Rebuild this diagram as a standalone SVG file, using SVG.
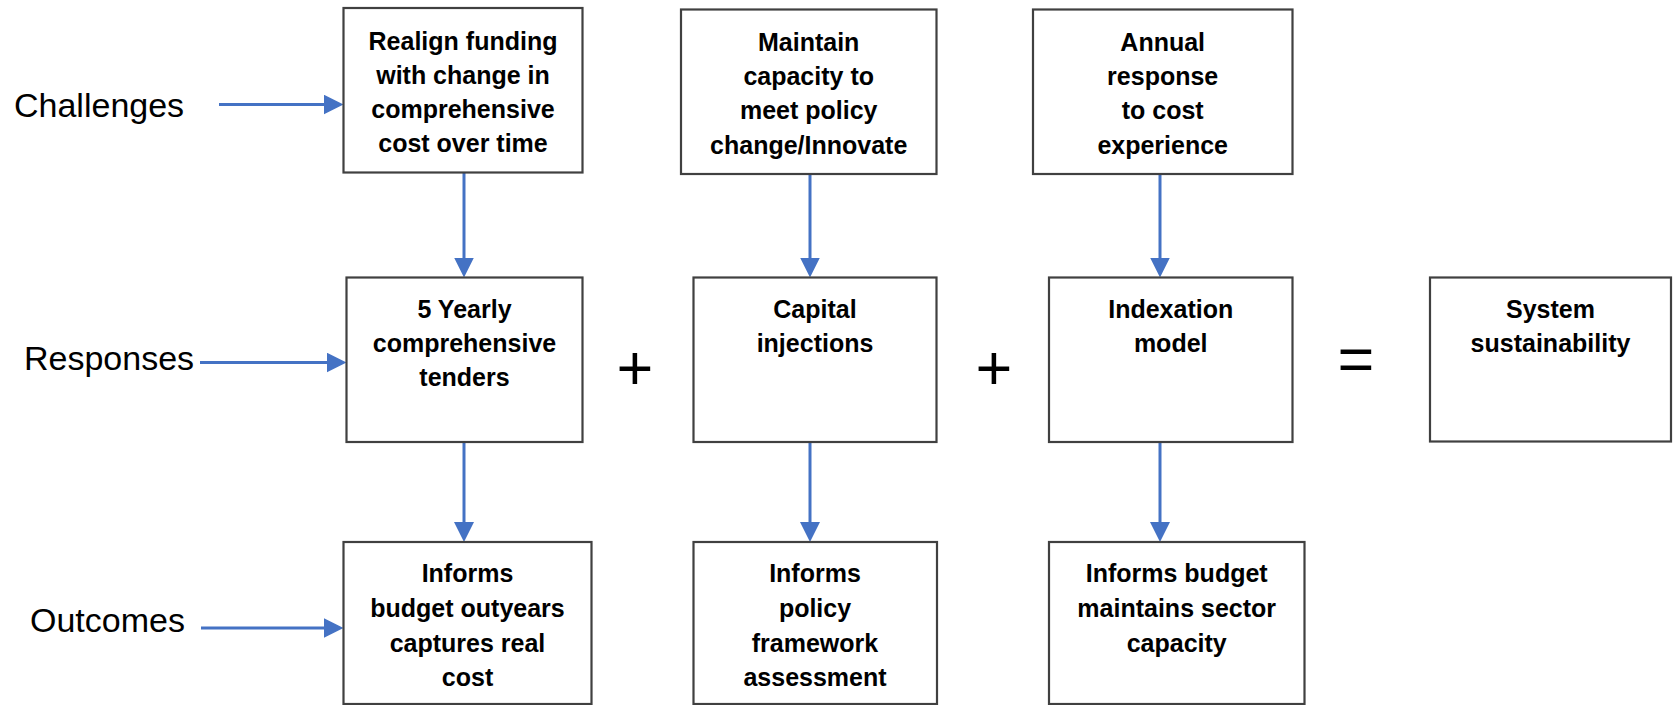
<svg xmlns="http://www.w3.org/2000/svg" width="1673" height="705" viewBox="0 0 1673 705">
<defs>
<style>
.box{fill:#ffffff;stroke:#404040;stroke-width:2.2}
.t{font-family:"Liberation Sans",Arial,sans-serif;font-weight:bold;font-size:25px;fill:#000;text-anchor:middle}
.lbl{font-family:"Liberation Sans",Arial,sans-serif;font-size:34px;fill:#000}
.op{font-family:"Liberation Sans",Arial,sans-serif;font-size:63px;fill:#000;text-anchor:middle}
.c{stroke:#4472C4;stroke-width:3;fill:none}
</style>
<marker id="ah" viewBox="0 0 20 20" markerWidth="20" markerHeight="20" refX="10" refY="10" orient="auto" markerUnits="userSpaceOnUse">
<path d="M0,0 L20,10 L0,20 z" fill="#4472C4"/>
</marker>
</defs>
<rect width="1673" height="705" fill="#ffffff"/>

<g id="labels">
<text class="lbl" x="14" y="117">Challenges</text>
<text class="lbl" x="24" y="370">Responses</text>
<text class="lbl" x="30" y="632">Outcomes</text>
</g>

<g id="connectors">
<line class="c" x1="219" y1="104.5" x2="333.5" y2="104.5" marker-end="url(#ah)"/>
<line class="c" x1="200" y1="362.5" x2="336.5" y2="362.5" marker-end="url(#ah)"/>
<line class="c" x1="201" y1="628" x2="333.5" y2="628" marker-end="url(#ah)"/>
<line class="c" x1="464" y1="172.5" x2="464" y2="267.5" marker-end="url(#ah)"/>
<line class="c" x1="810" y1="174" x2="810" y2="267.5" marker-end="url(#ah)"/>
<line class="c" x1="1160" y1="174" x2="1160" y2="267.5" marker-end="url(#ah)"/>
<line class="c" x1="464" y1="442" x2="464" y2="532" marker-end="url(#ah)"/>
<line class="c" x1="810" y1="442" x2="810" y2="532" marker-end="url(#ah)"/>
<line class="c" x1="1160" y1="442" x2="1160" y2="532" marker-end="url(#ah)"/>
</g>

<g id="challenge1">
<rect class="box" x="343.5" y="8" width="239" height="164.5"/>
<text class="t" x="463" y="50">Realign funding</text>
<text class="t" x="463" y="84">with change in</text>
<text class="t" x="463" y="118">comprehensive</text>
<text class="t" x="463" y="152">cost over time</text>
</g>
<g id="challenge2">
<rect class="box" x="681" y="9.5" width="255.5" height="164.5"/>
<text class="t" x="808.7" y="51">Maintain</text>
<text class="t" x="808.7" y="85">capacity to</text>
<text class="t" x="808.7" y="119">meet policy</text>
<text class="t" x="808.7" y="153.5">change/Innovate</text>
</g>
<g id="challenge3">
<rect class="box" x="1033" y="9.5" width="259.5" height="164.5"/>
<text class="t" x="1162.7" y="51">Annual</text>
<text class="t" x="1162.7" y="85">response</text>
<text class="t" x="1162.7" y="119">to cost</text>
<text class="t" x="1162.7" y="153.5">experience</text>
</g>

<g id="response1">
<rect class="box" x="346.5" y="277.5" width="236" height="164.5"/>
<text class="t" x="464.5" y="318">5 Yearly</text>
<text class="t" x="464.5" y="352">comprehensive</text>
<text class="t" x="464.5" y="386">tenders</text>
</g>
<g id="response2">
<rect class="box" x="693.5" y="277.5" width="243" height="164.5"/>
<text class="t" x="815" y="318">Capital</text>
<text class="t" x="815" y="352">injections</text>
</g>
<g id="response3">
<rect class="box" x="1049" y="277.5" width="243.5" height="164.5"/>
<text class="t" x="1170.7" y="318">Indexation</text>
<text class="t" x="1170.7" y="352">model</text>
</g>
<g id="result">
<rect class="box" x="1430" y="277.5" width="241" height="164"/>
<text class="t" x="1550.5" y="318">System</text>
<text class="t" x="1550.5" y="352">sustainability</text>
</g>

<g id="operators">
<text class="op" x="635" y="390">+</text>
<text class="op" x="994" y="390">+</text>
<text class="op" x="1356" y="381">=</text>
</g>

<g id="outcome1">
<rect class="box" x="343.5" y="542" width="248" height="162"/>
<text class="t" x="467.5" y="582">Informs</text>
<text class="t" x="467.5" y="617">budget outyears</text>
<text class="t" x="467.5" y="652">captures real</text>
<text class="t" x="467.5" y="686">cost</text>
</g>
<g id="outcome2">
<rect class="box" x="693.5" y="542" width="243.5" height="162"/>
<text class="t" x="815" y="582">Informs</text>
<text class="t" x="815" y="617">policy</text>
<text class="t" x="815" y="652">framework</text>
<text class="t" x="815" y="686">assessment</text>
</g>
<g id="outcome3">
<rect class="box" x="1049" y="542" width="255.5" height="162"/>
<text class="t" x="1176.7" y="582">Informs budget</text>
<text class="t" x="1176.7" y="617">maintains sector</text>
<text class="t" x="1176.7" y="652">capacity</text>
</g>
</svg>
